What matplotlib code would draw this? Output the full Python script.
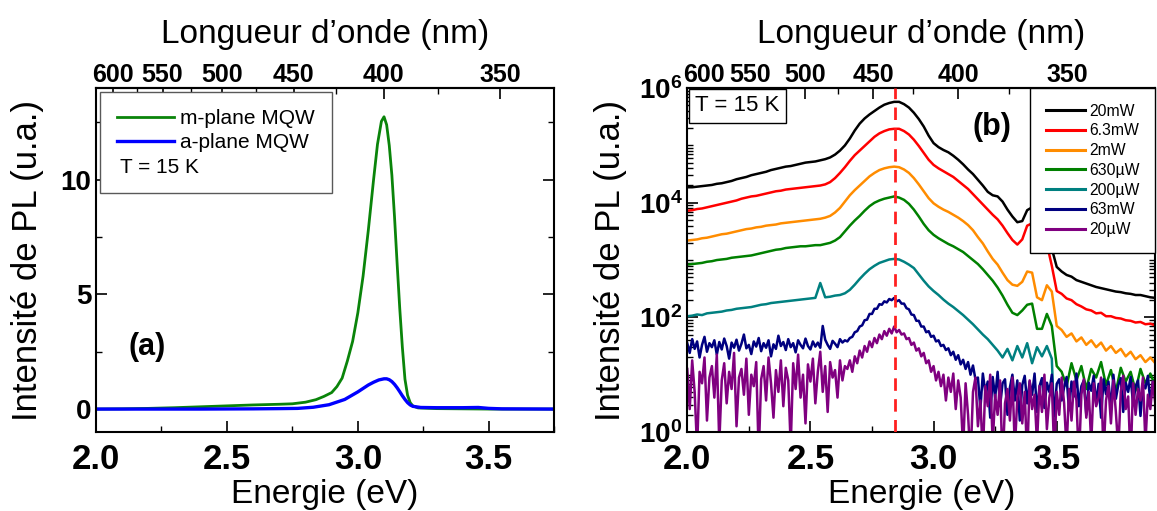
import matplotlib
matplotlib.use('Agg')
import matplotlib.pyplot as plt
import numpy as np
from matplotlib.lines import Line2D
from matplotlib.ticker import FixedLocator, MultipleLocator, LogLocator, NullFormatter

plt.rcParams['font.family'] = ['Liberation Sans', 'DejaVu Sans']
plt.rcParams['mathtext.fontset'] = 'custom'
plt.rcParams['mathtext.rm'] = 'Liberation Sans'
plt.rcParams['mathtext.bf'] = 'Liberation Sans:bold'

HC = 1239.84  # eV.nm
NARROW = ['Liberation Sans Narrow', 'Liberation Sans']

# ---------------- (a) linear spectra ----------------
energy_m = [2.00, 2.10, 2.20, 2.30, 2.40, 2.50, 2.60, 2.70, 2.75, 2.80, 2.84, 2.87,
            2.90, 2.92, 2.94, 2.96, 2.98, 3.00, 3.02, 3.04, 3.06, 3.075, 3.09, 3.10,
            3.11, 3.12, 3.13, 3.14, 3.15, 3.16, 3.17, 3.18, 3.19, 3.20, 3.21, 3.23,
            3.30, 3.40, 3.50, 3.60, 3.75]
m_plane = [0.00, 0.01, 0.03, 0.06, 0.10, 0.14, 0.18, 0.21, 0.23, 0.30, 0.41, 0.55,
           0.72, 0.98, 1.35, 2.10, 2.95, 4.20, 5.80, 7.80, 10.00, 11.55, 12.55, 12.75,
           12.40, 11.50, 10.20, 8.40, 6.35, 4.40, 2.70, 1.30, 0.60, 0.28, 0.14, 0.05,
           0.02, 0.01, 0.00, 0.00, 0.00]

energy_a = [2.00, 2.20, 2.40, 2.60, 2.70, 2.77, 2.83, 2.89, 2.95, 3.00, 3.02, 3.04,
            3.06, 3.08, 3.10, 3.11, 3.12, 3.13, 3.14, 3.15, 3.16, 3.17, 3.18, 3.19,
            3.20, 3.21, 3.24, 3.30, 3.40, 3.46, 3.50, 3.55, 3.75]
a_plane = [0.00, 0.00, 0.00, 0.01, 0.02, 0.03, 0.08, 0.19, 0.42, 0.75, 0.90, 1.05,
           1.17, 1.27, 1.32, 1.32, 1.28, 1.20, 1.08, 0.93, 0.76, 0.58, 0.42, 0.28,
           0.18, 0.12, 0.07, 0.06, 0.06, 0.07, 0.03, 0.01, 0.00]

# ---------------- (b) log10 of PL intensity ----------------
energy_b = np.round(np.arange(100, 196) * 0.02, 2)       # 2.00 ... 3.90
energy_b_fine = np.round(np.arange(200, 391) * 0.01, 2)  # 2.00 ... 3.90

log_20mW = [4.27, 4.27, 4.28, 4.29, 4.30, 4.31, 4.33, 4.34, 4.36, 4.38,
            4.41, 4.43, 4.45, 4.48, 4.50, 4.52, 4.54, 4.57, 4.59, 4.61,
            4.63, 4.64, 4.66, 4.68, 4.70, 4.71, 4.72, 4.74, 4.76, 4.79,
            4.84, 4.91, 5.00, 5.12, 5.26, 5.38, 5.47, 5.54, 5.60, 5.66,
            5.71, 5.74, 5.76, 5.76, 5.72, 5.66, 5.57, 5.46, 5.33, 5.17,
            5.04, 4.97, 4.92, 4.88, 4.82, 4.75, 4.67, 4.58, 4.50, 4.40,
            4.30, 4.19, 4.13, 4.11, 4.02, 3.88, 3.76, 3.66, 3.68, 3.87,
            3.92, 3.62, 3.55, 3.62, 3.20, 2.88, 2.80, 2.74, 2.71, 2.65,
            2.62, 2.59, 2.56, 2.53, 2.51, 2.49, 2.47, 2.45, 2.44, 2.42,
            2.41, 2.39, 2.39, 2.37, 2.35, 2.34]
log_6mW = [3.86, 3.87, 3.89, 3.90, 3.92, 3.94, 3.96, 3.98, 4.00, 4.02,
           4.04, 4.07, 4.09, 4.11, 4.12, 4.14, 4.16, 4.18, 4.20, 4.21,
           4.23, 4.24, 4.25, 4.26, 4.27, 4.28, 4.29, 4.30, 4.32, 4.36,
           4.43, 4.52, 4.62, 4.73, 4.83, 4.91, 4.99, 5.07, 5.15, 5.21,
           5.25, 5.28, 5.29, 5.29, 5.25, 5.19, 5.10, 4.99, 4.87, 4.75,
           4.66, 4.60, 4.55, 4.50, 4.45, 4.38, 4.31, 4.24, 4.15, 4.06,
           3.97, 3.88, 3.79, 3.71, 3.60, 3.47, 3.35, 3.27, 3.36, 3.60,
           3.64, 3.25, 3.18, 3.28, 2.90, 2.46, 2.41, 2.33, 2.30, 2.23,
           2.19, 2.14, 2.12, 2.07, 2.08, 2.02, 2.02, 1.99, 1.98, 1.95,
           1.94, 1.91, 1.92, 1.88, 1.89, 1.86]
log_2mW = [3.34, 3.35, 3.36, 3.38, 3.39, 3.41, 3.43, 3.45, 3.46, 3.48,
           3.50, 3.52, 3.54, 3.55, 3.57, 3.58, 3.60, 3.61, 3.62, 3.64,
           3.65, 3.66, 3.67, 3.68, 3.69, 3.70, 3.71, 3.72, 3.74, 3.77,
           3.83, 3.91, 4.02, 4.13, 4.22, 4.30, 4.38, 4.46, 4.52, 4.57,
           4.60, 4.62, 4.63, 4.62, 4.58, 4.52, 4.43, 4.32, 4.20, 4.08,
           3.99, 3.93, 3.88, 3.84, 3.79, 3.74, 3.68, 3.61, 3.52, 3.40,
           3.29, 3.15, 3.02, 2.92, 2.78, 2.65, 2.57, 2.55, 2.62, 2.80,
           2.78, 2.35, 2.30, 2.56, 2.45, 1.85, 1.78, 1.66, 1.72, 1.58,
           1.65, 1.52, 1.60, 1.48, 1.56, 1.42, 1.50, 1.38, 1.45, 1.32,
           1.40, 1.27, 1.34, 1.22, 1.30, 1.20]
log_630uW = [2.92, 2.93, 2.94, 2.95, 2.97, 2.98, 3.00, 3.01, 3.02, 3.04,
             3.05, 3.06, 3.07, 3.08, 3.10, 3.12, 3.14, 3.16, 3.18, 3.19,
             3.21, 3.22, 3.23, 3.24, 3.24, 3.25, 3.26, 3.26, 3.28, 3.30,
             3.34, 3.40, 3.50, 3.60, 3.69, 3.77, 3.86, 3.94, 4.00, 4.04,
             4.07, 4.09, 4.11, 4.09, 4.05, 3.98, 3.88, 3.76, 3.63, 3.52,
             3.44, 3.38, 3.33, 3.28, 3.24, 3.19, 3.14, 3.07, 3.00, 2.93,
             2.84, 2.74, 2.64, 2.52, 2.38, 2.22, 2.08, 2.04, 2.12, 2.22,
             2.24, 1.80, 1.80, 2.06, 1.85, 1.15, 1.05, 0.80, 1.20, 0.90,
             1.15, 0.75, 1.10, 0.95, 1.22, 0.82, 1.08, 0.70, 1.12, 0.88,
             1.05, 0.72, 1.10, 0.85, 1.02, 0.80]
log_200uW = [2.02, 2.03, 2.05, 2.04, 2.07, 2.08, 2.09, 2.10, 2.12, 2.13,
             2.15, 2.16, 2.17, 2.18, 2.20, 2.22, 2.23, 2.25, 2.26, 2.27,
             2.28, 2.29, 2.30, 2.31, 2.32, 2.33, 2.34, 2.60, 2.35, 2.36,
             2.38, 2.39, 2.42, 2.48, 2.57, 2.67, 2.76, 2.84, 2.90, 2.95,
             2.98, 3.01, 3.02, 3.01, 2.97, 2.92, 2.86, 2.75, 2.64, 2.54,
             2.46, 2.39, 2.31, 2.24, 2.18, 2.11, 2.04, 1.96, 1.88, 1.79,
             1.70, 1.62, 1.52, 1.42, 1.30, 1.45, 1.25, 1.50, 1.30, 1.55,
             1.20, 1.48, 1.32, 1.50, 1.28, -1.0, -1.0, -1.0, -1.0, -1.0,
             -1.0, -1.0, -1.0, -1.0, -1.0, -1.0, -1.0, -1.0, -1.0, -1.0,
             -1.0, -1.0, -1.0, -1.0, -1.0, -1.0]

log_63mW = [1.55, 1.38, 1.62, 1.45, 1.58, 1.30, 1.52, 1.66, 1.40, 1.55,
            1.48, 1.60, 1.35, 1.57, 1.44, 1.63, 1.50, 1.28, 1.56, 1.47,
            1.61, 1.42, 1.54, 1.70, 1.46, 1.52, 1.36, 1.58, 1.49, 1.64,
            1.41, 1.55, 1.47, 1.60, 1.32, 1.53, 1.45, 1.68, 1.50, 1.57,
            1.43, 1.62, 1.48, 1.55, 1.39, 1.60, 1.52, 1.46, 1.63, 1.50,
            1.44, 1.58, 1.49, 1.56, 1.47, 1.85, 1.61, 1.52, 1.45, 1.59,
            1.54, 1.48, 1.62, 1.56, 1.60,
            1.58, 1.64, 1.66, 1.74, 1.76, 1.84, 1.86, 1.95, 1.96, 2.06,
            2.06, 2.15, 2.15, 2.23, 2.22, 2.28, 2.26, 2.32, 2.30, 2.34,
            2.28, 2.30, 2.24, 2.24, 2.16, 2.14, 2.05, 2.04, 1.94, 1.94,
            1.84, 1.84, 1.74, 1.76, 1.66, 1.68, 1.58, 1.60, 1.50, 1.52,
            1.43, 1.46, 1.34, 1.40, 1.26, 1.34, 1.18, 1.26, 1.10, 1.22,
            1.00, 1.16, 0.92,
            0.95, 0.40, 1.02, 0.70, 0.88, 0.25, 0.96, 0.60, 1.05, 0.45,
            0.85, 0.92, 0.30, 0.78, 1.00, 0.55, 0.90, 0.20, 0.82, 0.98,
            0.50, 0.88, 0.65, 1.02, 0.35, 0.80, 0.94, 0.42, 0.86, 0.70,
            1.00, 0.28, 0.84, 0.92, 0.55, 0.78, 0.96, 0.38, 0.88, 0.62,
            1.02, 0.45, 0.80, 0.90, 0.30, 0.86, 0.72, 0.98, 0.50, 0.84,
            0.25, 0.92, 0.66, 0.88, 0.40, 1.00, 0.58, 0.82, 0.94, 0.35,
            0.86, 0.70, 0.96, 0.48, 0.80, 0.90, 0.28, 0.84, 0.76, 0.98,
            0.52, 0.88, 0.60]
log_20uW = [1.10, 0.40, 1.25, 0.70, -0.30, 1.05, 0.85, 1.30, 0.20, 0.95,
            1.15, 0.60, 1.35, -0.20, 0.90, 1.20, 0.50, 1.05, 0.75, 1.38,
            0.10, 0.95, 1.10, 0.65, 1.28, 0.30, 1.00, 0.80, 1.22, -0.40,
            0.92, 1.15, 0.55, 1.30, 0.85, 0.25, 1.08, 0.70, 1.25, 0.45,
            1.12, 0.90, -0.25, 1.20, 0.75, 1.35, 0.60, 1.00, 0.15, 1.18,
            0.88, 1.28, 0.50, 1.05, 1.40, 0.70, 1.15, 0.35, 1.22, 0.95,
            1.08, 0.60, 1.25, 0.90, 1.15,
            1.10, 1.25, 1.05, 1.32, 1.20, 1.42, 1.30, 1.50, 1.40, 1.58,
            1.48, 1.64, 1.55, 1.70, 1.62, 1.76, 1.68, 1.80, 1.72, 1.84,
            1.74, 1.78, 1.70, 1.72, 1.62, 1.64, 1.52, 1.56, 1.42, 1.46,
            1.32, 1.38, 1.20, 1.25, 1.05, 1.15, 0.90, 1.05,
            0.80, 1.00, 0.55, 0.95, 0.70, 1.02, 0.40, 0.90,
            0.60, -0.30, 0.85, 0.30, -0.50, 0.70, 0.95, 0.10, 0.55, -0.40,
            0.80, 0.45, 1.00, -0.20, 0.65, 0.30, 0.90, -0.60, 0.50, 0.75,
            0.20, 0.95, -0.30, 0.60, 0.85, 0.15, 0.70, -0.50, 0.90, 0.40,
            0.65, -0.20, 0.80, 0.35, 1.00, 0.05, 0.60, 0.85, -0.40, 0.70,
            0.30, 0.95, 0.50, -0.30, 0.75, 0.20, 0.88, 0.55, -0.50, 0.65,
            0.92, 0.25, 0.70, -0.20, 0.85, 0.45, 0.60, 0.95, -0.40, 0.55,
            0.80, 0.15, 0.90, 0.35, -0.30, 0.70, 0.98, 0.40, 0.62, -0.50,
            0.85, 0.30, 0.75, 0.55, 0.95, -0.20, 0.65, 0.40, 0.88, 0.50]

series_b = [
    ('20mW', energy_b, log_20mW, 'black'),
    ('6.3mW', energy_b, log_6mW, '#ff0000'),
    ('2mW', energy_b, log_2mW, '#ff8c00'),
    ('630µW', energy_b, log_630uW, '#008000'),
    ('200µW', energy_b, log_200uW, '#008080'),
    ('63mW', energy_b_fine, log_63mW, '#000080'),
    ('20µW', energy_b_fine, log_20uW, '#800080'),
]
peak_energy = 2.845
wl_ticks = [600, 550, 500, 450, 400, 350]
wl_minor = [575, 525, 475, 425, 375]


def e2l(x):
    x = np.asarray(x, dtype=float)
    with np.errstate(divide='ignore'):
        return HC / x


def style_axes(ax, xmax):
    ax.set_xlim(2.0, xmax)
    ax.set_xticks([2.0, 2.5, 3.0, 3.5], labels=['2.0', '2.5', '3.0', '3.5'],
                  fontsize=25, fontweight='bold')
    ax.xaxis.set_minor_locator(MultipleLocator(0.25))
    ax.tick_params(which='both', direction='in', top=False, right=True)
    ax.tick_params(which='major', length=8, width=1.2)
    ax.tick_params(which='minor', length=4, width=1.0)
    ax.tick_params(axis='x', pad=8)
    for s in ax.spines.values():
        s.set_linewidth(1.5)
    ax.set_xlabel('Energie (eV)', fontsize=24, labelpad=2)
    sec = ax.secondary_xaxis('top', functions=(e2l, e2l))
    sec.set_xticks(wl_ticks, labels=[str(w) for w in wl_ticks], fontsize=18,
                   fontweight='bold', family=NARROW)
    sec.xaxis.set_minor_locator(FixedLocator(wl_minor))
    sec.tick_params(which='both', direction='in')
    sec.tick_params(which='major', length=8, width=1.2, pad=1)
    sec.tick_params(which='minor', length=4, width=1.0)
    sec.spines['top'].set_linewidth(1.5)
    sec.set_xlabel('Longueur d\u2019onde (nm)', fontsize=24, labelpad=14)
    return sec


fig = plt.figure(figsize=(11.57, 5.11), dpi=100)
ax1 = fig.add_axes([0.083, 0.1546, 0.396, 0.673])
ax2 = fig.add_axes([0.594, 0.1546, 0.4045, 0.673])

# ---- panel (a)
ax1.plot(energy_m, m_plane, color='#0a840a', lw=2.0)
ax1.plot(energy_a, a_plane, color='#0000ff', lw=2.4)
style_axes(ax1, 3.75)
ax1.set_ylim(-1.0, 14.0)
ax1.set_yticks([0, 5, 10], labels=['0', '5', '10'], fontsize=20, fontweight='bold')
ax1.yaxis.set_minor_locator(MultipleLocator(2.5))
ax1.set_ylabel('Intensité de PL (u.a.)', fontsize=25, labelpad=12)

handles = [Line2D([], [], color='#0a840a', lw=2.0),
           Line2D([], [], color='#0000ff', lw=2.4),
           Line2D([], [], color='none')]
leg1 = ax1.legend(handles, ['m-plane MQW', 'a-plane MQW', ' '], loc='upper left',
                  bbox_to_anchor=(0.0, 1.0), borderaxespad=0.2, fontsize=15,
                  handlelength=2.75, handletextpad=0.3, labelspacing=0.25,
                  borderpad=0.8, fancybox=False, edgecolor='0.35', framealpha=1)
leg1.get_frame().set_linewidth(1.0)
ax1.text(0.052, 0.770, 'T = 15 K', transform=ax1.transAxes, fontsize=15,
         ha='left', va='center', zorder=10)
ax1.text(0.111, 0.247, '(a)', transform=ax1.transAxes, fontsize=22,
         fontweight='bold', ha='center', va='center')

# ---- panel (b)
for label, e, logi, col in series_b:
    ax2.plot(e, 10 ** np.asarray(logi), color=col, lw=1.8, label=label)
ax2.axvline(peak_energy, color='#ff2020', lw=2.0, dashes=(4.5, 3), zorder=5)
ax2.set_yscale('log')
style_axes(ax2, 3.9)
ax2.set_ylim(1, 1e6)
ax2.set_yticks([1, 1e2, 1e4, 1e6],
               labels=[r'$\mathbf{10^{0}}$', r'$\mathbf{10^{2}}$',
                       r'$\mathbf{10^{4}}$', r'$\mathbf{10^{6}}$'], fontsize=20)
ax2.yaxis.set_minor_locator(LogLocator(base=10, subs=np.arange(1, 10) * 1.0, numticks=30))
ax2.yaxis.set_minor_formatter(NullFormatter())
ax2.set_ylabel('Intensité de PL (u.a.)', fontsize=25, labelpad=8)

leg2 = ax2.legend(loc='upper right', bbox_to_anchor=(1.0, 1.0), borderaxespad=0.0,
                  fontsize=11.3, handlelength=2.5, handletextpad=0.25, labelspacing=0.3,
                  borderpad=1.0, fancybox=False, edgecolor='black', framealpha=1)
leg2.get_frame().set_linewidth(1.0)
for h in leg2.legend_handles:
    h.set_linewidth(2.2)
ax2.text(0.017, 0.948, 'T = 15 K', transform=ax2.transAxes, fontsize=16,
         ha='left', va='center',
         bbox=dict(boxstyle='square,pad=0.3', fc='white', ec='black', lw=1.0))
ax2.text(0.652, 0.887, '(b)', transform=ax2.transAxes, fontsize=22,
         fontweight='bold', ha='center', va='center')

fig.savefig('out.png', dpi=100)
